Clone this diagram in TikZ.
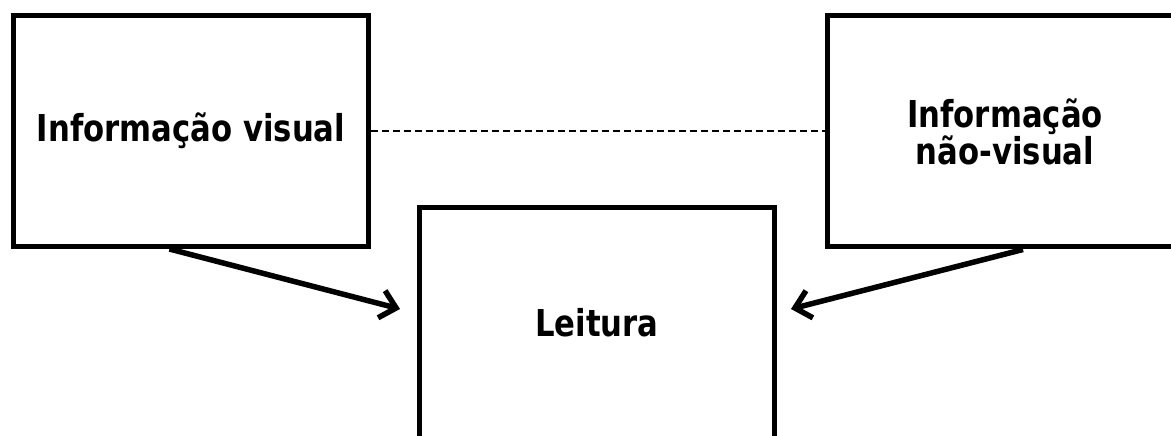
\documentclass[tikz,border=0pt]{standalone}
\usepackage{fontspec}
\newfontfamily\boxfont{DejaVu Sans Bold}[FakeStretch=0.83]
\usetikzlibrary{arrows.meta,calc}
\begin{document}
\begin{tikzpicture}[x=1pt,y=1pt,
  infobox/.style={draw=black, line width=5pt, minimum width=355pt, minimum height=231pt,
    inner sep=0pt, align=center, font={\fontsize{37}{36}\selectfont\boxfont}},
  flowarrow/.style={line width=5.5pt, -{Straight Barb[length=15pt,width=28pt,line width=5.5pt]}},
  linkline/.style={line width=2.2pt, dash pattern=on 7pt off 4pt}]
\useasboundingbox (0,0) rectangle (1171,436);
\node[infobox] (vis) at (191,305) {Informação visual};
\node[infobox] (nvis) at (1005,304.5) {Informação\\não-visual};
\node[infobox] (lei) at (597,113) {Leitura};
\coordinate (leftTip) at (400,127);
\coordinate (rightTip) at (791,127);
\draw[linkline] (vis.east) -- (vis.east -| nvis.west);
\draw[flowarrow] ($(vis.south west)!0.44!(vis.south east)$) -- (leftTip);
\draw[flowarrow] ($(nvis.south west)!0.55!(nvis.south east)$) -- (rightTip);
\end{tikzpicture}
\end{document}
